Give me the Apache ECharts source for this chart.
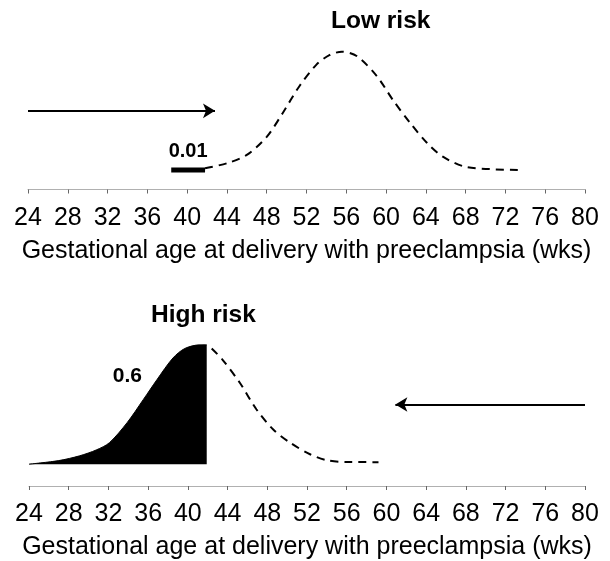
<!DOCTYPE html>
<html>
<head>
<meta charset="utf-8">
<script src="https://cdn.jsdelivr.net/npm/echarts@6/dist/echarts.min.js"></script>
<style>
  html, body { margin: 0; padding: 0; background: #fff; }
  #main { width: 610px; height: 561px; }
</style>
</head>
<body>
<div id="main"></div>
<script>
// gestational age (wks) and relative density
var lowWeeks = [41.8, 44.0, 46.0, 48.0, 49.6, 51.3, 53.0, 54.3, 55.55, 57.1, 59.1, 60.7, 62.4, 64.1, 65.75, 68.1, 73.3];
var lowDensity = [0.014, 0.057, 0.127, 0.28, 0.48, 0.71, 0.89, 0.97, 1.0, 0.96, 0.79, 0.59, 0.40, 0.23, 0.11, 0.025, 0];
var lowBarWeeks = [38.4, 41.8];
var lowBarDensity = [0, 0];

var highFillWeeks = [24, 27, 29.1, 30.8, 32.1, 33.9, 35.5, 36.9, 38.5, 39.7, 41.2, 41.9];
var highFillDensity = [0, 0.03, 0.07, 0.12, 0.18, 0.35, 0.54, 0.71, 0.89, 0.97, 1.0, 1.0];
var highDashWeeks = [42.4, 43.5, 45.25, 46.9, 48.6, 50.3, 52.3, 54.0, 56.0, 59.2];
var highDashDensity = [0.97, 0.875, 0.68, 0.46, 0.29, 0.18, 0.083, 0.033, 0.018, 0.017];

var weekTicks = [24, 28, 32, 36, 40, 44, 48, 52, 56, 60, 64, 68, 72, 76, 80];
var axisTitle = 'Gestational age at delivery with preeclampsia (wks)';

function pairs(xs, ys) {
    return xs.map(function (x, i) { return [x, ys[i]]; });
}

var myChart = echarts.init(document.getElementById('main'));

var xAxisBase = {
    type: 'value',
    min: weekTicks[0],
    max: weekTicks[weekTicks.length - 1],
    interval: 4,
    name: axisTitle,
    nameLocation: 'middle',
    nameGap: 49,
    nameTextStyle: { fontFamily: 'Liberation Sans', fontSize: 25, color: '#000' },
    axisLine: { onZero: false, lineStyle: { color: '#b0b0b0', width: 1 } },
    axisTick: { length: 4, lineStyle: { color: '#666' } },
    axisLabel: { fontFamily: 'Liberation Sans', fontSize: 25, color: '#000', margin: 16 },
    splitLine: { show: false }
};

var yAxisBase = {
    type: 'value',
    max: 1.2,
    show: false,
    splitLine: { show: false }
};

function textMark(text, coord, size) {
    return {
        symbol: 'rect', symbolSize: 1,
        itemStyle: { color: 'rgba(0,0,0,0)' },
        label: { show: true, position: 'inside', formatter: text,
                 fontFamily: 'Liberation Sans', fontSize: size, fontWeight: 'bold', color: '#000' },
        data: [{ coord: coord }]
    };
}

var titleStyle = { fontFamily: 'Liberation Sans', fontSize: 24.5, fontWeight: 'bold', color: '#000' };

var option = {
    backgroundColor: '#fff',
    animation: false,
    title: [
        { text: 'Low risk', left: 331, top: 9, padding: 0, textStyle: titleStyle },
        { text: 'High risk', left: 151, top: 303, padding: 0, textStyle: titleStyle }
    ],
    grid: [
        { left: 28, right: 25, top: 28, height: 161.5 },
        { left: 29, right: 25, top: 321, height: 166 }
    ],
    xAxis: [
        Object.assign({}, xAxisBase, { gridIndex: 0 }),
        Object.assign({}, xAxisBase, { gridIndex: 1 })
    ],
    yAxis: [
        Object.assign({}, yAxisBase, { gridIndex: 0, min: -0.165 }),
        Object.assign({}, yAxisBase, { gridIndex: 1, min: -0.183 })
    ],
    series: [
        {
            type: 'line', xAxisIndex: 0, yAxisIndex: 0,
            data: pairs(lowWeeks, lowDensity),
            smooth: 0.3, symbol: 'none',
            lineStyle: { color: '#000', width: 2, type: [8, 6] }
        },
        {
            type: 'line', xAxisIndex: 0, yAxisIndex: 0,
            data: pairs(lowBarWeeks, lowBarDensity),
            symbol: 'none',
            lineStyle: { color: '#000', width: 5 },
            markPoint: textMark('0.01', [40.1, 0.16], 20),
            markLine: {
                silent: true,
                symbol: ['none', 'arrow'], symbolSize: [11, 12],
                label: { show: false },
                lineStyle: { color: '#000', width: 2, type: 'solid' },
                data: [[{ coord: [24, 0.50] }, { coord: [42.8, 0.50] }]]
            }
        },
        {
            type: 'line', xAxisIndex: 1, yAxisIndex: 1,
            data: pairs(highFillWeeks, highFillDensity),
            smooth: 0.3, symbol: 'none',
            lineStyle: { color: '#000', width: 1 },
            areaStyle: { color: '#000', opacity: 1 },
            markPoint: textMark('0.6', [33.9, 0.74], 21),
            markLine: {
                silent: true,
                symbol: ['none', 'arrow'], symbolSize: [11, 12],
                label: { show: false },
                lineStyle: { color: '#000', width: 2, type: 'solid' },
                data: [[{ coord: [80, 0.5] }, { coord: [60.9, 0.5] }]]
            }
        },
        {
            type: 'line', xAxisIndex: 1, yAxisIndex: 1,
            data: pairs(highDashWeeks, highDashDensity),
            smooth: 0.3, symbol: 'none',
            lineStyle: { color: '#000', width: 2, type: [8, 6] }
        }
    ]
};

myChart.setOption(option);
</script>
</body>
</html>
